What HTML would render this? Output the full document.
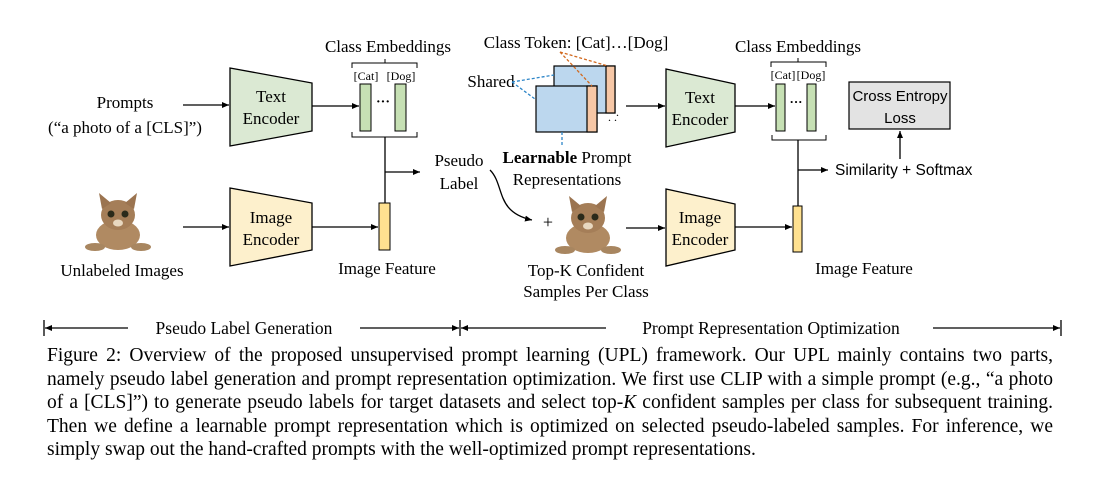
<!DOCTYPE html>
<html><head><meta charset="utf-8"><style>
html,body{margin:0;padding:0;background:#fff;width:1099px;height:482px;overflow:hidden}
svg{position:absolute;left:0;top:0}
.cap{position:absolute;left:47px;top:344px;width:1006px;font-family:"Liberation Serif",serif;font-size:19.5px;line-height:23.6px;color:#000}
.cap div{text-align:justify;text-align-last:justify;white-space:nowrap}
.cap div.l{text-align-last:left}
</style></head><body>
<svg width="1099" height="482" viewBox="0 0 1099 482" font-family="Liberation Serif, serif" fill="#000">
<defs>
<marker id="a" markerWidth="8" markerHeight="8" refX="7" refY="4" orient="auto" markerUnits="userSpaceOnUse"><path d="M0,1 L7,4 L0,7 z" fill="#000"/></marker>
<g id="cat">
<ellipse cx="33" cy="42" rx="22" ry="15" fill="#b08a62"/>
<ellipse cx="33" cy="22" rx="17" ry="15" fill="#a57e58"/>
<path d="M17,16 L14,0 L26,10 z M49,16 L52,0 L40,10 z" fill="#9b7450"/>
<circle cx="26" cy="21" r="3.5" fill="#2a2a1a"/><circle cx="40" cy="21" r="3.5" fill="#2a2a1a"/>
<ellipse cx="33" cy="30" rx="5" ry="3.5" fill="#e8d8c0"/>
<ellipse cx="10" cy="54" rx="10" ry="4" fill="#a88660"/><ellipse cx="56" cy="54" rx="10" ry="4" fill="#a88660"/>
</g>
</defs>
<g font-size="17">
<text x="125" y="108" text-anchor="middle">Prompts</text>
<text x="125" y="133" text-anchor="middle">(“a photo of a [CLS]”)</text>
<line x1="183" y1="105" x2="229" y2="105" stroke="#000" stroke-width="1.3" marker-end="url(#a)"/>
<polygon points="230,68 312,83 312,131 230,146" fill="#dbe9d3" stroke="#000" stroke-width="1.3"/>
<text x="271" y="102" text-anchor="middle">Text</text><text x="271" y="124" text-anchor="middle">Encoder</text>
<line x1="312" y1="106" x2="359" y2="106" stroke="#000" stroke-width="1.3" marker-end="url(#a)"/>
<text x="388" y="52" text-anchor="middle">Class Embeddings</text>
<path d="M352,68 V63 H417 V68 M385,63 V59" fill="none" stroke="#000"/>
<text x="366" y="80" text-anchor="middle" font-size="12">[Cat]</text><text x="401" y="80" text-anchor="middle" font-size="12">[Dog]</text>
<rect x="360" y="84" width="11" height="47" fill="#c6e0b4" stroke="#000"/>
<rect x="395" y="84" width="11" height="47" fill="#c6e0b4" stroke="#000"/>
<text x="383" y="106" text-anchor="middle" font-size="14" font-weight="bold">···</text>
<path d="M352,132 V137 H417 V132" fill="none" stroke="#000"/>
<line x1="385" y1="137" x2="385" y2="203" stroke="#000" stroke-width="1.3"/>
<line x1="385" y1="172" x2="420" y2="172" stroke="#000" stroke-width="1.3" marker-end="url(#a)"/>
<text x="459" y="166" text-anchor="middle">Pseudo</text><text x="459" y="189" text-anchor="middle">Label</text>
<use href="#cat" x="85" y="193"/>
<text x="122" y="276" text-anchor="middle">Unlabeled Images</text>
<line x1="183" y1="227" x2="229" y2="227" stroke="#000" stroke-width="1.3" marker-end="url(#a)"/>
<polygon points="230,188 312,203 312,250 230,266" fill="#fdf0cc" stroke="#000" stroke-width="1.3"/>
<text x="271" y="223" text-anchor="middle">Image</text><text x="271" y="245" text-anchor="middle">Encoder</text>
<line x1="312" y1="227" x2="378" y2="227" stroke="#000" stroke-width="1.3" marker-end="url(#a)"/>
<rect x="379" y="203" width="11" height="47" fill="#ffe190" stroke="#000"/>
<text x="387" y="274" text-anchor="middle">Image Feature</text>
<text x="576" y="48" text-anchor="middle">Class Token: [Cat]…[Dog]</text>
<text x="491" y="87" text-anchor="middle">Shared</text>
<rect x="554" y="66" width="61" height="47" fill="#bcd7ee" stroke="#000" stroke-width="1.2"/>
<rect x="606" y="66" width="9" height="47" fill="#f6c7a6" stroke="#000" stroke-width="1.2"/>
<rect x="536" y="86" width="61" height="46" fill="#bcd7ee" stroke="#000" stroke-width="1.2"/>
<rect x="587" y="86" width="10" height="46" fill="#f6c7a6" stroke="#000" stroke-width="1.2"/>
<path d="M512,82 L554,75 M512,82 L535,99 M562,132 V145" stroke="#2e86c8" stroke-width="1.3" stroke-dasharray="3,2" fill="none"/>
<path d="M560,52 L608,66 M560,52 L592,86" stroke="#d2691e" stroke-width="1.3" stroke-dasharray="3,2" fill="none"/>
<text x="608" y="121" font-size="12">. .</text><text x="616" y="116" font-size="12">.</text>
<text x="567" y="163" text-anchor="middle"><tspan font-weight="bold">Learnable</tspan> Prompt</text>
<text x="567" y="185" text-anchor="middle">Representations</text>
<path d="M490,170 C505,185 495,212 532,220" fill="none" stroke="#000" stroke-width="1.3" marker-end="url(#a)"/>
<text x="548" y="228" text-anchor="middle" font-size="18">+</text>
<use href="#cat" x="555" y="196"/>
<text x="586" y="276" text-anchor="middle">Top-K Confident</text>
<text x="586" y="297" text-anchor="middle">Samples Per Class</text>
<line x1="626" y1="106" x2="665" y2="106" stroke="#000" stroke-width="1.3" marker-end="url(#a)"/>
<polygon points="666,69 735,84 735,132 666,147" fill="#dbe9d3" stroke="#000" stroke-width="1.3"/>
<text x="700" y="103" text-anchor="middle">Text</text><text x="700" y="125" text-anchor="middle">Encoder</text>
<line x1="735" y1="106" x2="775" y2="106" stroke="#000" stroke-width="1.3" marker-end="url(#a)"/>
<text x="798" y="52" text-anchor="middle">Class Embeddings</text>
<path d="M771,67 V62 H826 V67 M798,62 V58" fill="none" stroke="#000"/>
<text x="783" y="79" text-anchor="middle" font-size="12">[Cat]</text><text x="811" y="79" text-anchor="middle" font-size="12">[Dog]</text>
<rect x="776" y="84" width="9" height="47" fill="#c6e0b4" stroke="#000"/>
<rect x="807" y="84" width="9" height="47" fill="#c6e0b4" stroke="#000"/>
<text x="796" y="106" text-anchor="middle" font-size="13" font-weight="bold">···</text>
<path d="M772,135 V140 H826 V135" fill="none" stroke="#000"/>
<line x1="798" y1="140" x2="798" y2="206" stroke="#000" stroke-width="1.3"/>
<line x1="798" y1="170" x2="828" y2="170" stroke="#000" stroke-width="1.3" marker-end="url(#a)"/>
<text x="835" y="175" font-family="Liberation Sans, sans-serif" font-size="15.5">Similarity + Softmax</text>
<rect x="849" y="82" width="101" height="47" fill="#e3e3e3" stroke="#000" stroke-width="1.2"/>
<text x="900" y="101" text-anchor="middle" font-family="Liberation Sans, sans-serif" font-size="15">Cross Entropy</text>
<text x="900" y="123" text-anchor="middle" font-family="Liberation Sans, sans-serif" font-size="15">Loss</text>
<line x1="900" y1="159" x2="900" y2="131" stroke="#000" stroke-width="1.3" marker-end="url(#a)"/>
<line x1="626" y1="228" x2="665" y2="228" stroke="#000" stroke-width="1.3" marker-end="url(#a)"/>
<polygon points="666,189 735,204 735,250 666,266" fill="#fdf0cc" stroke="#000" stroke-width="1.3"/>
<text x="700" y="223" text-anchor="middle">Image</text><text x="700" y="245" text-anchor="middle">Encoder</text>
<line x1="735" y1="227" x2="792" y2="227" stroke="#000" stroke-width="1.3" marker-end="url(#a)"/>
<rect x="793" y="206" width="9" height="46" fill="#ffe190" stroke="#000"/>
<text x="864" y="274" text-anchor="middle">Image Feature</text>
<path d="M44,320 V336 M460,320 V336 M1061,320 V336" stroke="#000" stroke-width="1.3"/>
<line x1="128" y1="328" x2="45" y2="328" stroke="#000" stroke-width="1.3" marker-end="url(#a)"/>
<line x1="360" y1="328" x2="459" y2="328" stroke="#000" stroke-width="1.3" marker-end="url(#a)"/>
<line x1="606" y1="328" x2="461" y2="328" stroke="#000" stroke-width="1.3" marker-end="url(#a)"/>
<line x1="933" y1="328" x2="1060" y2="328" stroke="#000" stroke-width="1.3" marker-end="url(#a)"/>
<text x="244" y="334" text-anchor="middle" font-size="17.5">Pseudo Label Generation</text>
<text x="771" y="334" text-anchor="middle" font-size="17.5">Prompt Representation Optimization</text>
</g>
</svg>
<div class="cap">
<div>Figure 2: Overview of the proposed unsupervised prompt learning (UPL) framework. Our UPL mainly contains two parts,</div>
<div>namely pseudo label generation and prompt representation optimization. We first use CLIP with a simple prompt (e.g., “a photo</div>
<div>of a [CLS]”) to generate pseudo labels for target datasets and select top-<i>K</i> confident samples per class for subsequent training.</div>
<div>Then we define a learnable prompt representation which is optimized on selected pseudo-labeled samples. For inference, we</div>
<div class="l">simply swap out the hand-crafted prompts with the well-optimized prompt representations.</div>
</div>
</body></html>
